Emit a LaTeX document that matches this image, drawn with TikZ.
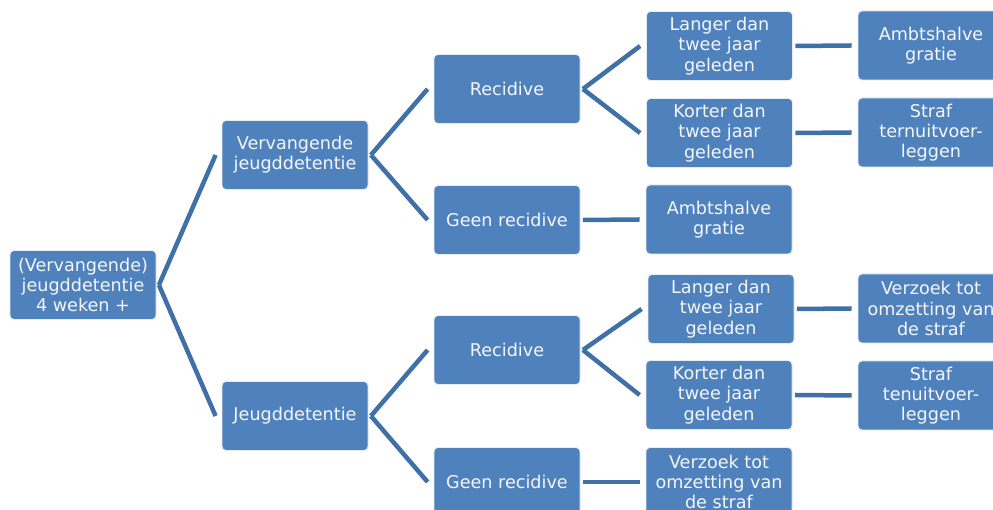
\documentclass[tikz,border=0pt]{standalone}
\usepackage{fontspec}
\setmainfont{DejaVu Sans}
\usetikzlibrary{calc}
\definecolor{boxblue}{HTML}{4F81BD}
\definecolor{lineblue}{HTML}{4070A8}
\definecolor{txt}{HTML}{F4F6FA}
\tikzset{
  box/.style={rectangle, rounded corners=4pt, fill=boxblue, draw=white!85!boxblue, line width=0.8pt,
    minimum width=146pt, minimum height=69pt, inner sep=0pt, align=center, text=txt,
    font=\fontsize{17.6pt}{20.3pt}\selectfont},
  conn/.style={lineblue, line width=4.5pt}
}
\begin{document}
\begin{tikzpicture}[x=1pt,y=1pt]
\useasboundingbox (0,0) rectangle (993,510);
\clip (0,0) rectangle (993,510);
% level 0
\node[box] (root) at (83,225) {(Vervangende)\\jeugddetentie\\4 weken +};
% level 1
\node[box] (v1) at (295,355) {Vervangende\\jeugddetentie};
\node[box] (j1) at (295,94) {Jeugddetentie};
% level 2
\node[box] (r1) at (507,421) {Recidive};
\node[box] (g1) at (507,290) {Geen recidive};
\node[box] (r2) at (507,160) {Recidive};
\node[box] (g2) at (507,28) {Geen recidive};
% level 3
\node[box] (l1) at (719.5,464) {Langer dan\\twee jaar\\geleden};
\node[box] (k1) at (719.5,377) {Korter dan\\twee jaar\\geleden};
\node[box] (a1) at (719,290.5) {Ambtshalve\\gratie};
\node[box] (l2) at (721,201) {Langer dan\\twee jaar\\geleden};
\node[box] (k2) at (719,115) {Korter dan\\twee jaar\\geleden};
\node[box] (v2) at (719,28) {Verzoek tot\\omzetting van\\de straf};
% level 4
\node[box] (a2) at (931,464.5) {Ambtshalve\\gratie};
\node[box] (s1) at (931,377.5) {Straf\\ternuitvoer-\\leggen};
\node[box] (vz) at (931,201.5) {Verzoek tot\\omzetting van\\de straf};
\node[box] (s2) at (931,114.5) {Straf\\tenuitvoer-\\leggen};
% connectors
\foreach \p/\c in {root/v1, root/j1, v1/r1, v1/g1, j1/r2, j1/g2, r1/l1, r1/k1, g1/a1, r2/l2, r2/k2, g2/v2, l1/a2, k1/s1, l2/vz, k2/s2}{
  \draw[conn] ($(\p.east)+(2.5,0)$) -- ($(\c.west)+(-6,0)$);
}
\end{tikzpicture}
\end{document}
